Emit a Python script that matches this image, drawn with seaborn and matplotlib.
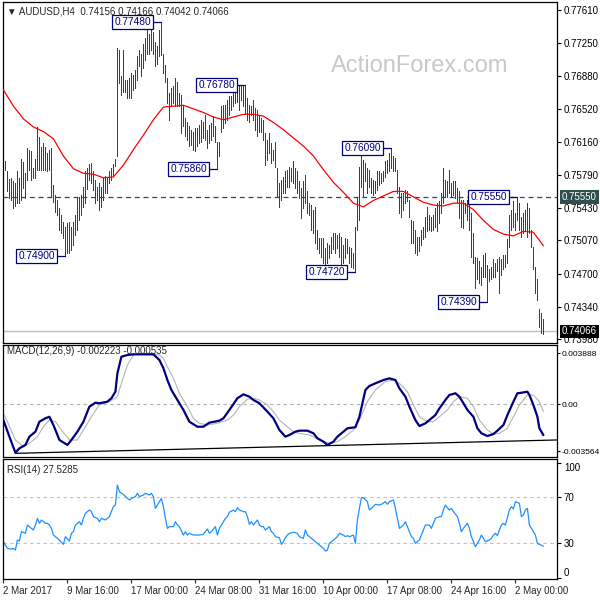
import numpy as np
import seaborn as sns
import matplotlib.pyplot as plt

# --- data (AUDUSD H4, one bar every 4 hours) ---
highs = [
    .7665, .7594, .7583, .7575, .7576, .7573, .7570, .7583, .7576, .7597,
    .7593, .7581, .7609, .7607, .7605, .7587, .7597, .7632, .7621, .7610,
    .7614, .7610, .7603, .7607, .7609, .7568, .7557, .7552, .7543, .7535,
    .7527, .7522, .7526, .7527, .7522, .7527, .7535, .7555, .7555, .7557,
    .7566, .7583, .7587, .7591, .7592, .7583, .7574, .7566, .7570, .7566,
    .7576, .7578, .7576, .7583, .7587, .7591, .7597, .7719, .7717, .7688,
    .7717, .7684, .7684, .7686, .7691, .7689, .7695, .7710, .7717, .7713,
    .7724, .7730, .7746, .7735, .7739, .7737, .7726, .7721, .7739, .7748,
    .7713, .7700, .7686, .7669, .7675, .7677, .7686, .7682, .7669, .7667,
    .7655, .7642, .7638, .7633, .7629, .7627, .7631, .7631, .7634, .7640,
    .7638, .7645, .7629, .7634, .7636, .7644, .7633, .7616, .7616, .7655,
    .7656, .7656, .7662, .7666, .7666, .7669, .7675, .7677, .7678, .7678,
    .7678, .7678, .7664, .7656, .7655, .7662, .7653, .7651, .7645, .7642,
    .7640, .7625, .7618, .7625, .7614, .7607, .7616, .7587, .7570, .7574,
    .7577, .7583, .7585, .7588, .7587, .7594, .7587, .7583, .7572, .7565,
    .7572, .7579, .7561, .7548, .7546, .7541, .7544, .7519, .7510, .7510,
    .7510, .7499, .7504, .7502, .7511, .7515, .7515, .7513, .7515, .7511,
    .7502, .7510, .7508, .7500, .7499, .7493, .7522, .7555, .7588, .7607,
    .7596, .7592, .7587, .7585, .7576, .7574, .7572, .7583, .7583, .7581,
    .7583, .7594, .7596, .7603, .7609, .7600, .7598, .7585, .7566, .7559,
    .7559, .7563, .7561, .7552, .7530, .7528, .7519, .7511, .7511, .7519,
    .7522, .7533, .7544, .7535, .7533, .7535, .7543, .7548, .7550, .7559,
    .7587, .7574, .7572, .7585, .7570, .7572, .7572, .7565, .7561, .7552,
    .7552, .7548, .7552, .7552, .7537, .7515, .7489, .7488, .7484, .7478,
    .7491, .7493, .7480, .7475, .7478, .7486, .7482, .7486, .7489, .7486,
    .7491, .7491, .7508, .7535, .7541, .7550, .7537, .7555, .7548, .7533,
    .7537, .7541, .7548, .7543, .7519, .7500, .7478, .7464, .7431, .7427,
    .7420,
]
lows = [
    .7612, .7585, .7561, .7554, .7551, .7543, .7545, .7548, .7548, .7551,
    .7565, .7554, .7574, .7585, .7574, .7576, .7576, .7585, .7585, .7585,
    .7585, .7585, .7583, .7585, .7555, .7549, .7538, .7535, .7518, .7515,
    .7510, .7490, .7493, .7493, .7496, .7502, .7513, .7518, .7529, .7535,
    .7544, .7548, .7564, .7574, .7570, .7563, .7548, .7551, .7541, .7544,
    .7551, .7559, .7559, .7570, .7574, .7578, .7589, .7600, .7680, .7667,
    .7671, .7671, .7664, .7664, .7664, .7673, .7675, .7684, .7699, .7688,
    .7697, .7706, .7713, .7713, .7717, .7713, .7699, .7702, .7710, .7711,
    .7691, .7682, .7658, .7640, .7655, .7658, .7655, .7655, .7655, .7625,
    .7633, .7622, .7618, .7611, .7612, .7607, .7605, .7611, .7614, .7616,
    .7620, .7618, .7609, .7614, .7618, .7622, .7616, .7586, .7600, .7627,
    .7631, .7636, .7640, .7645, .7651, .7655, .7658, .7660, .7651, .7662,
    .7655, .7647, .7640, .7638, .7645, .7640, .7629, .7622, .7627, .7627,
    .7618, .7590, .7596, .7603, .7592, .7596, .7588, .7555, .7544, .7552,
    .7559, .7559, .7566, .7566, .7572, .7570, .7565, .7559, .7554, .7532,
    .7543, .7548, .7537, .7535, .7519, .7515, .7504, .7497, .7493, .7489,
    .7482, .7478, .7482, .7488, .7493, .7497, .7493, .7499, .7489, .7478,
    .7482, .7488, .7493, .7482, .7478, .7477, .7472, .7519, .7530, .7566,
    .7555, .7572, .7559, .7566, .7559, .7557, .7559, .7563, .7568, .7570,
    .7572, .7577, .7581, .7583, .7587, .7583, .7583, .7559, .7537, .7533,
    .7541, .7548, .7550, .7533, .7504, .7504, .7493, .7491, .7495, .7502,
    .7508, .7511, .7517, .7519, .7517, .7519, .7522, .7517, .7526, .7537,
    .7548, .7555, .7555, .7559, .7555, .7557, .7554, .7548, .7532, .7522,
    .7521, .7537, .7530, .7519, .7489, .7482, .7455, .7464, .7460, .7458,
    .7467, .7467, .7439, .7462, .7464, .7467, .7467, .7473, .7449, .7469,
    .7475, .7478, .7482, .7500, .7519, .7522, .7519, .7530, .7519, .7511,
    .7515, .7519, .7511, .7515, .7500, .7475, .7449, .7441, .7412, .7405,
    .7404,
]

# moving average, every 5 bars
ma_bar = list(range(0, 271, 5))
ma_val = [.7673, .7655, .7641, .7632, .7627, .7619, .7600, .7586, .7581, .7580,
          .7576, .7577, .7590, .7607, .7623, .7640, .7654, .7655, .7656, .7652,
          .7648, .7643, .7640, .7643, .7646, .7646, .7644, .7637, .7629, .7620,
          .7611, .7600, .7585, .7571, .7560, .7548, .7544, .7551, .7556, .7561,
          .7561, .7555, .7549, .7546, .7545, .7548, .7548, .7541, .7529, .7519,
          .7514, .7512, .7517, .7516, .7501]

macd_bar = [0, 3, 6, 8, 11, 13, 16, 18, 21, 23, 25, 28, 32, 34, 37, 40, 43, 46, 48,
            52, 54, 56, 57, 59, 62, 65, 70, 75, 78, 80, 82, 84, 87, 90, 93, 97, 100,
            103, 108, 110, 113, 117, 120, 123, 125, 128, 132, 135, 138, 141, 143, 146,
            148, 152, 155, 157, 160, 162, 165, 167, 170, 172, 176, 178, 181, 183, 186,
            190, 193, 196, 198, 201, 203, 206, 208, 211, 213, 216, 218, 221, 223, 226,
            228, 230, 232, 235, 237, 239, 242, 245, 247, 250, 252, 255, 257, 259, 262,
            263, 265, 267, 268, 270]
macd_val = [-0.00120, -0.00247, -0.00369, -0.00336, -0.00310, -0.00247, -0.00209,
            -0.00133, -0.00107, -0.00095, -0.00158, -0.00272, -0.00310, -0.00272,
            -0.00209, -0.00133, -0.00018, 0.00012, 0.00008, 0.00020, 0.00046, 0.00096,
            0.00236, 0.00363, 0.00376, 0.00381, 0.00381, 0.00381, 0.00338, 0.00275,
            0.00185, 0.00109, 0.00033, -0.00043, -0.00133, -0.00171, -0.00171,
            -0.00140, -0.00125, -0.00107, -0.00043, 0.00046, 0.00076, 0.00058,
            0.00033, 0.00008, -0.00056, -0.00107, -0.00196, -0.00247, -0.00234,
            -0.00209, -0.00201, -0.00201, -0.00221, -0.00259, -0.00285, -0.00310,
            -0.00285, -0.00247, -0.00209, -0.00183, -0.00175, -0.00095, 0.00109,
            0.00140, 0.00160, 0.00185, 0.00198, 0.00185, 0.00122, 0.00058, -0.00018,
            -0.00120, -0.00166, -0.00145, -0.00120, -0.00082, -0.00031, 0.00033,
            0.00071, 0.00084, 0.00058, 0.00008, -0.00043, -0.00095, -0.00183,
            -0.00221, -0.00242, -0.00227, -0.00201, -0.00158, -0.00082, 0.00020,
            0.00084, 0.00088, 0.00096, 0.00071, -0.00005, -0.00095, -0.00183, -0.00235]

sig_bar = [0, 2, 6, 10, 13, 17, 20, 23, 26, 29, 33, 37, 40, 44, 48, 53, 57, 59, 62,
           65, 68, 73, 78, 80, 82, 85, 88, 92, 95, 98, 102, 107, 112, 115, 118, 122,
           125, 128, 132, 135, 138, 142, 145, 148, 153, 158, 163, 167, 171, 175, 178,
           182, 186, 191, 195, 198, 202, 205, 208, 212, 215, 218, 222, 225, 228, 232,
           235, 238, 242, 245, 248, 252, 255, 258, 262, 265, 268, 270]
sig_val = [-0.00070, -0.00133, -0.00272, -0.00323, -0.00298, -0.00247, -0.00171,
           -0.00120, -0.00133, -0.00196, -0.00272, -0.00272, -0.00196, -0.00095,
           -0.00005, 0.00020, 0.00058, 0.00160, 0.00300, 0.00376, 0.00389, 0.00389,
           0.00376, 0.00351, 0.00287, 0.00198, 0.00084, -0.00018, -0.00107, -0.00145,
           -0.00158, -0.00145, -0.00120, -0.00082, -0.00018, 0.00038, 0.00046,
           0.00033, -0.00005, -0.00056, -0.00120, -0.00171, -0.00209, -0.00222,
           -0.00234, -0.00272, -0.00298, -0.00285, -0.00247, -0.00196, -0.00120,
           0.00020, 0.00109, 0.00173, 0.00185, 0.00160, 0.00096, -0.00005, -0.00095,
           -0.00133, -0.00133, -0.00095, -0.00043, 0.00020, 0.00058, 0.00046,
           -0.00018, -0.00120, -0.00196, -0.00227, -0.00222, -0.00183, -0.00095,
           -0.00005, 0.00071, 0.00071, 0.00020, -0.00054]

rsi_bar = [0, 2, 4, 5, 6, 7, 8, 9, 11, 12, 14, 15, 16, 17, 18, 19, 21, 22, 23, 24, 25,
           27, 28, 29, 30, 31, 33, 34, 35, 36, 38, 39, 40, 41, 43, 44, 45, 47, 48, 49,
           51, 53, 54, 55, 56, 57, 58, 59, 60, 62, 63, 64, 66, 67, 68, 70, 71, 73, 74,
           75, 76, 78, 79, 80, 81, 82, 83, 85, 86, 87, 88, 90, 91, 92, 93, 95, 97, 98,
           100, 102, 103, 104, 106, 107, 108, 110, 111, 112, 113, 115, 116, 117, 118,
           120, 121, 122, 123, 124, 125, 127, 128, 129, 130, 131, 133, 134, 135, 136,
           138, 139, 140, 141, 142, 143, 145, 147, 148, 150, 151, 152, 153, 154, 155,
           156, 158, 159, 160, 161, 162, 163, 165, 166, 167, 168, 170, 171, 172, 173,
           175, 176, 177, 178, 179, 180, 182, 183, 184, 186, 188, 189, 191, 192, 193,
           195, 196, 197, 198, 200, 201, 203, 204, 205, 206, 208, 209, 210, 211, 213,
           214, 215, 216, 218, 219, 220, 221, 222, 223, 224, 225, 227, 228, 229, 230,
           232, 233, 234, 235, 236, 238, 239, 240, 241, 243, 244, 245, 246, 247, 248,
           249, 250, 251, 253, 254, 255, 256, 258, 259, 260, 261, 262, 263, 265, 266,
           267, 268, 270]
rsi_val = [31.4, 25.6, 25.0, 25.6, 24.2, 32.9, 32.0, 40.1, 38.7, 45.9, 43.0, 41.6, 45.9,
           51.7, 47.4, 50.3, 47.4, 47.4, 45.9, 43.0, 37.2, 34.3, 32.9, 30.9, 29.1, 35.8,
           32.0, 38.7, 40.1, 45.9, 48.8, 45.9, 51.7, 56.1, 59.0, 57.5, 53.2, 51.7, 48.8,
           51.7, 50.3, 53.2, 57.5, 61.9, 63.3, 80.7, 74.9, 73.5, 72.6, 69.1, 67.7, 69.1,
           70.6, 73.5, 70.6, 72.0, 73.5, 72.0, 73.5, 70.6, 60.4, 66.2, 69.1, 61.9, 51.7,
           43.0, 44.5, 44.5, 48.8, 45.9, 44.5, 37.2, 40.1, 37.2, 38.7, 37.2, 37.2, 37.2,
           37.8, 42.5, 38.7, 40.1, 44.5, 37.2, 43.0, 48.8, 51.7, 53.2, 57.0, 59.0, 57.5,
           61.0, 59.0, 57.5, 57.5, 53.2, 46.5, 48.8, 45.9, 50.3, 45.9, 44.5, 44.5, 41.6,
           44.5, 40.1, 38.7, 35.8, 34.9, 29.1, 31.4, 34.9, 37.2, 38.7, 39.6, 38.7, 35.8,
           34.3, 41.6, 37.2, 35.8, 34.3, 32.9, 31.4, 28.6, 27.1, 25.6, 23.3, 24.2, 30.0,
           32.9, 34.3, 35.8, 38.7, 37.2, 35.8, 36.7, 35.8, 37.2, 30.0, 50.3, 60.4, 69.7,
           69.7, 66.2, 59.0, 60.4, 63.9, 63.3, 63.9, 66.2, 63.9, 66.2, 67.7, 60.4, 51.7,
           43.0, 45.9, 48.8, 40.1, 35.8, 34.3, 30.0, 32.9, 37.2, 41.6, 45.9, 45.9, 43.0,
           47.4, 51.7, 53.2, 53.2, 59.0, 63.3, 61.0, 59.0, 60.4, 57.5, 53.2, 47.4, 40.1,
           43.0, 47.4, 43.0, 35.8, 31.4, 27.1, 32.9, 37.2, 34.3, 31.4, 32.9, 34.3, 37.2,
           38.7, 36.7, 41.6, 45.9, 47.4, 45.9, 59.0, 61.9, 59.9, 66.2, 64.8, 53.2, 54.6,
           59.0, 60.4, 45.9, 40.1, 37.2, 30.0, 29.1, 27.5]

# marked swing highs / lows
swing_bar = [79, 31, 107, 121, 176, 194, 257, 242]
swing_price = [0.7748, 0.7490, 0.7586, 0.7678, 0.7472, 0.7609, 0.7555, 0.7439]

price_ticks = [0.77610, 0.77250, 0.76880, 0.76520, 0.76160, 0.75790, 0.75430,
               0.75070, 0.74700, 0.74340, 0.73980]
macd_ticks = [0.003888, 0.0, -0.003564]
macd_tick_text = ["0.003888", "0.00", "-0.003564"]
rsi_ticks = [100, 70, 30, 0]
date_bar = [0, 32, 64, 96, 128, 160, 192, 224, 256]
date_text = ["2 Mar 2017", "9 Mar 16:00", "17 Mar 00:00", "24 Mar 08:00",
             "31 Mar 16:00", "10 Apr 00:00", "17 Apr 08:00", "24 Apr 16:00",
             "2 May 00:00"]
ohlc_last = [0.74156, 0.74166, 0.74042, 0.74066]
level_line = 0.75550
macd_last, signal_last = -0.002223, -0.000535
rsi_last = 27.5285
trend_bar = [6, 277]
trend_val = [-0.00374, -0.00272]

# --- style ---
sns.set_style("white")
plt.rcParams['font.family'] = ['Liberation Sans', 'DejaVu Sans']
plt.rcParams['font.size'] = 7

BAR = "#1b4a5e"
NAVY = "#000080"
FS = 7

fig = plt.figure(figsize=(6, 6), dpi=100)
W = 554 / 600
ax1 = fig.add_axes([3 / 600, 1 - 343 / 600, W, 341 / 600])
ax2 = fig.add_axes([3 / 600, 1 - 457 / 600, W, 112 / 600])
ax3 = fig.add_axes([3 / 600, 1 - 579 / 600, W, 120 / 600])

for ax in (ax1, ax2, ax3):
    ax.set_xlim(-0.2, 276.8)
    for s in ax.spines.values():
        s.set_color("black")
        s.set_linewidth(0.9)
    ax.yaxis.tick_right()
    ax.tick_params(axis='y', direction='out', length=3, width=0.8, pad=2,
                   labelsize=FS, colors='black', left=False, right=True)

# main price panel
n = len(highs)
bars_x = np.arange(n)
ax1.axhline(ohlc_last[3], color="#c0c0c0", lw=1.0, zorder=1)
ax1.axhline(level_line, color="#2f4f4f", lw=0.9, ls=(0, (4, 3)), zorder=1)
ax1.vlines(bars_x, lows, highs, color=BAR, lw=0.72, antialiased=False, zorder=2)
sns.lineplot(x=ma_bar, y=ma_val, ax=ax1, color="red", lw=0.9, zorder=3)
ax1.set_ylim(0.73939, 0.77698)
ax1.set_yticks(price_ticks)
ax1.set_yticklabels([f"{v:.5f}" for v in price_ticks])
ax1.set_xticks([])

for b, p in zip(swing_bar, swing_price):
    ax1.plot([b - 5, b], [p, p], color=NAVY, lw=0.9, zorder=4)
    ax1.text(b - 5.3, p, f"{p:.5f}", ha='right', va='center', fontsize=7.3,
             color=NAVY, zorder=5,
             bbox=dict(boxstyle='square,pad=0.18', fc='white', ec=NAVY, lw=0.9))

ytr = ax1.get_yaxis_transform()
ax1.text(1.009, level_line, f"{level_line:.5f}", transform=ytr, ha='left',
         va='center', fontsize=FS, color='white', clip_on=False,
         bbox=dict(boxstyle='square,pad=0.2', fc='#2f4f4f', ec='none'))
ax1.text(1.009, ohlc_last[3], f"{ohlc_last[3]:.5f}", transform=ytr, ha='left',
         va='center', fontsize=FS, color='white', clip_on=False,
         bbox=dict(boxstyle='square,pad=0.2', fc='black', ec='none'))

fig.text(420 / 600, 1 - 66 / 600, "ActionForex.com", fontsize=17,
         color="#c8c8c8", ha='center', va='center')
fig.text(7 / 600, 1 - 11 / 600,
         "▼ AUDUSD,H4  " + " ".join(f"{v:.5f}" for v in ohlc_last),
         fontsize=FS, va='center', ha='left')

# MACD panel
ax2.axhline(0, color="#b0b0b0", lw=0.8, ls=(0, (3, 3)))
ax2.plot(trend_bar, trend_val, color="black", lw=0.9)
fig.text(7 / 600, 1 - 351 / 600,
         f"MACD(12,26,9) {macd_last:.6f} {signal_last:.6f}",
         fontsize=FS, va='center', ha='left')
sns.lineplot(x=sig_bar, y=sig_val, ax=ax2, color="#b4b4b4", lw=0.8)
sns.lineplot(x=macd_bar, y=macd_val, ax=ax2, color=NAVY, lw=1.6)
ax2.set_ylim(-0.004020, 0.004523)
ax2.set_yticks(macd_ticks)
ax2.set_yticklabels(macd_tick_text)
ax2.set_xticks([])
ax2.tick_params(axis='y', length=2, pad=1, labelsize=6.1)

# RSI panel
for lvl in (70, 30):
    ax3.axhline(lvl, color="#c0c0c0", lw=0.8, ls=(0, (3, 3)))
sns.lineplot(x=rsi_bar, y=rsi_val, ax=ax3, color="#1e90ff", lw=0.9)
fig.text(7 / 600, 1 - 470 / 600, f"RSI(14) {rsi_last:.4f}",
         fontsize=FS, va='center', ha='left')
ax3.set_ylim(-1.0, 103.3)
ax3.set_yticks(rsi_ticks)
ax3.set_yticklabels([str(v) for v in rsi_ticks])
labs = ax3.get_yticklabels()
labs[0].set_va('top')
labs[-1].set_va('bottom')
ax3.set_xticks(date_bar)
ax3.set_xticklabels(date_text, ha='left')
ax3.tick_params(axis='x', direction='out', length=3, width=0.8, pad=2,
                labelsize=FS, bottom=True)
for ax in (ax1, ax2, ax3):
    ax.set_xlabel("")
    ax.set_ylabel("")

fig.savefig("out.png", dpi=100)
